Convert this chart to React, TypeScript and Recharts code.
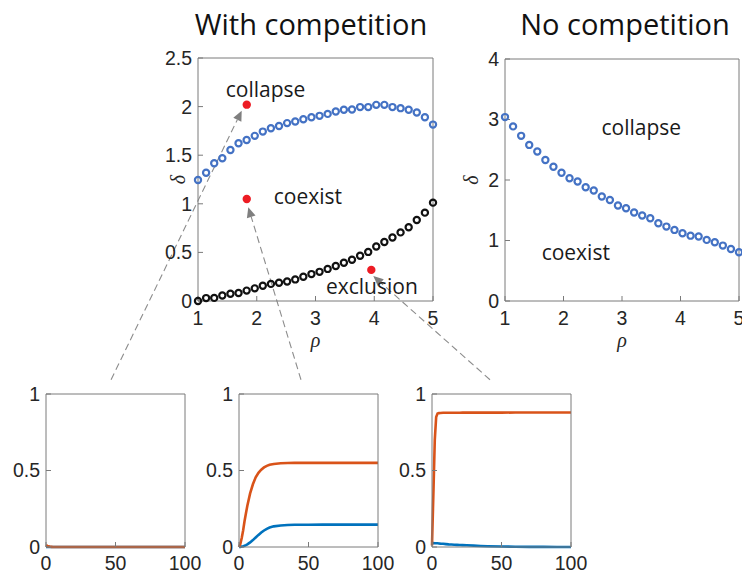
import React from 'react';
import {
  ScatterChart,
  Scatter,
  LineChart,
  Line,
  XAxis,
  YAxis,
  ReferenceLine,
  ReferenceDot,
} from 'recharts';

// rho values sampled along the x axis (shared by all three top series)
const rho = [
  1.0, 1.138, 1.276, 1.414, 1.552, 1.69, 1.828, 1.966, 2.103, 2.241, 2.379, 2.517, 2.655, 2.793, 2.931,
  3.069, 3.207, 3.345, 3.483, 3.621, 3.759, 3.897, 4.034, 4.172, 4.31, 4.448, 4.586, 4.724, 4.862, 5.0,
];

// with competition: upper (collapse) boundary
const collapseWith = [
  1.245, 1.32, 1.417, 1.469, 1.554, 1.623, 1.657, 1.699, 1.743, 1.778, 1.8, 1.83, 1.846, 1.87, 1.89,
  1.905, 1.925, 1.95, 1.967, 1.97, 1.995, 1.995, 2.018, 2.018, 1.995, 1.984, 1.967, 1.94, 1.89, 1.815,
];

// with competition: lower (exclusion) boundary
const exclusionWith = [
  0, 0.03, 0.032, 0.056, 0.075, 0.083, 0.107, 0.13, 0.157, 0.176, 0.187, 0.2, 0.222, 0.25, 0.277,
  0.3, 0.33, 0.36, 0.393, 0.424, 0.465, 0.505, 0.56, 0.607, 0.653, 0.706, 0.758, 0.833, 0.909, 1.012,
];

// no competition: collapse boundary
const collapseNo = [
  3.04, 2.886, 2.73, 2.58, 2.47, 2.33, 2.22, 2.12, 2.03, 1.975, 1.88, 1.826, 1.727, 1.67, 1.578,
  1.534, 1.462, 1.412, 1.368, 1.285, 1.23, 1.175, 1.12, 1.08, 1.065, 1.01, 0.97, 0.916, 0.86, 0.805,
];

// the three sampled parameter points (red dots)
const sampleRho = [1.83, 1.83, 3.95];
const sampleDelta = [2.02, 1.05, 0.32];

// time axis of the small simulations
const time = [0, 1, 2, 3, 4, 5, 6, 8, 10, 12, 14, 16, 18, 20, 22, 25, 30, 35, 40, 50, 60, 70, 80, 90, 100];

const collapseRed = [0.012, 0.007, 0.004, 0.002, 0.001, 0, 0, 0, 0, 0, 0, 0, 0, 0, 0, 0, 0, 0, 0, 0, 0, 0, 0, 0, 0];
const collapseBlue = [0, 0, 0, 0, 0, 0, 0, 0, 0, 0, 0, 0, 0, 0, 0, 0, 0, 0, 0, 0, 0, 0, 0, 0, 0];

const coexistRed = [
  0, 0.02, 0.06, 0.11, 0.17, 0.22, 0.27, 0.35, 0.41, 0.455, 0.485, 0.505, 0.52, 0.53, 0.537, 0.543,
  0.547, 0.549, 0.55, 0.55, 0.55, 0.55, 0.55, 0.55, 0.55,
];
const coexistBlue = [
  0, 0.001, 0.003, 0.005, 0.008, 0.012, 0.017, 0.03, 0.045, 0.062, 0.079, 0.095, 0.108, 0.119, 0.127,
  0.135, 0.141, 0.144, 0.145, 0.145, 0.146, 0.146, 0.146, 0.146, 0.146,
];

const exclusionRed = [
  0.01, 0.35, 0.7, 0.85, 0.872, 0.875, 0.876, 0.877, 0.877, 0.877, 0.877, 0.877, 0.877, 0.877, 0.878,
  0.878, 0.878, 0.878, 0.878, 0.878, 0.879, 0.879, 0.879, 0.879, 0.879,
];
const exclusionBlue = [
  0.025, 0.026, 0.025, 0.025, 0.024, 0.023, 0.022, 0.021, 0.019, 0.017, 0.016, 0.015, 0.014, 0.013,
  0.012, 0.011, 0.009, 0.007, 0.005, 0.003, 0.002, 0.001, 0.001, 0, 0,
];

const AXIS = '#7a7a7a';
const TICK = { fontSize: 19.5, fill: '#262626', fontFamily: '"Liberation Sans", Arial, sans-serif' };
const NOTE = { fontSize: 21, fill: '#1a1a1a', fontFamily: '"Open Sans", sans-serif' };
const SYM = { fontSize: 20, fill: '#262626', fontFamily: '"Liberation Serif", serif', fontStyle: 'italic' };

const pts = (ys: number[]) => rho.map((x, i) => ({ x, y: ys[i] }));
const sims = (red: number[], blue: number[]) => time.map((t, i) => ({ t, red: red[i], blue: blue[i] }));

const ring = (color: string) => (p: any) => (
  <circle cx={p.cx} cy={p.cy} r={3.1} fill="none" stroke={color} strokeWidth={2.2} />
);
const dot = (p: any) => <circle cx={p.cx} cy={p.cy} r={4.2} fill="#ed1c24" />;
const nothing = () => <g />;

// dashed arrow pointing from a small panel up to its parameter point
function Arrow(p: any) {
  const { x1, y1, x2, y2 } = p;
  const len = Math.hypot(x2 - x1, y2 - y1);
  const ux = (x2 - x1) / len;
  const uy = (y2 - y1) / len;
  const bx = x2 - ux * 10;
  const by = y2 - uy * 10;
  return (
    <g>
      <line x1={x1} y1={y1} x2={bx} y2={by} stroke="#8c8c8c" strokeWidth={1.1} strokeDasharray="7 4" />
      <polygon points={`${x2},${y2} ${bx - uy * 4.5},${by + ux * 4.5} ${bx + uy * 4.5},${by - ux * 4.5}`} fill="#7f7f7f" />
    </g>
  );
}

// MATLAB style box: labelled bottom/left axes, mirrored tick-only top/right axes
// (the mirrored axes need a size of at least 1px or recharts skips them)
function frameAxes(yDomain: number[], yTicks: number[], yWidth: number, symDx: number) {
  return [
    <XAxis key="xb" dataKey="x" type="number" domain={[1, 5]} ticks={[1, 2, 3, 4, 5]}
      stroke={AXIS} tick={TICK} tickSize={-5} tickMargin={15} height={30} interval={0}
      label={{ value: 'ρ', position: 'bottom', offset: 2, ...SYM }} />,
    <XAxis key="xt" xAxisId="top" dataKey="x" orientation="top" type="number" domain={[1, 5]} ticks={[1, 2, 3, 4, 5]}
      stroke={AXIS} tick={false} tickSize={-5} height={1} interval={0} />,
    <YAxis key="yl" dataKey="y" type="number" domain={yDomain} ticks={yTicks}
      stroke={AXIS} tick={TICK} tickSize={-5} tickMargin={11} width={yWidth} interval={0}
      label={{ value: 'δ', position: 'center', angle: -90, dx: symDx, ...SYM }} />,
    <YAxis key="yr" yAxisId="right" dataKey="y" orientation="right" type="number" domain={yDomain} ticks={yTicks}
      stroke={AXIS} tick={false} tickSize={-5} width={1} interval={0} />,
  ];
}

function TimePanel({ left, red, blue }: { left: number; red: number[]; blue: number[] }) {
  return (
    <div style={{ position: 'absolute', left: left - 45, top: 380 }}>
      <LineChart width={204} height={193} data={sims(red, blue)} margin={{ top: 13, right: 19, bottom: 0, left: 0 }}>
        <XAxis dataKey="t" type="number" domain={[0, 100]} ticks={[0, 50, 100]} stroke={AXIS} tick={TICK}
          tickSize={-5} tickMargin={14} height={26} interval={0} />
        <XAxis xAxisId="top" dataKey="t" orientation="top" type="number" domain={[0, 100]} ticks={[0, 50, 100]}
          stroke={AXIS} tick={false} tickSize={-5} height={1} interval={0} />
        <YAxis type="number" domain={[0, 1]} ticks={[0, 0.5, 1]} stroke={AXIS} tick={TICK} tickSize={-5}
          tickMargin={11} width={45} interval={0} />
        <YAxis yAxisId="right" orientation="right" type="number" domain={[0, 1]} ticks={[0, 0.5, 1]} stroke={AXIS}
          tick={false} tickSize={-5} width={1} interval={0} />
        <Line xAxisId="top" yAxisId="right" dataKey="red" stroke="none" dot={false} isAnimationActive={false} />
        <Line dataKey="blue" stroke="#0072BD" strokeWidth={2.6} dot={false} isAnimationActive={false} />
        <Line dataKey="red" stroke="#D95319" strokeWidth={2.6} dot={false} isAnimationActive={false} />
      </LineChart>
    </div>
  );
}

const title: React.CSSProperties = {
  position: 'absolute',
  top: 4,
  transform: 'translateX(-50%)',
  whiteSpace: 'nowrap',
  fontFamily: '"Open Sans", sans-serif',
  fontSize: 29,
  color: '#111',
};

export default function App() {
  return (
    <div style={{ position: 'fixed', left: 0, top: 0, width: 742, height: 573, background: '#fff', overflow: 'hidden' }}>
      <div style={{ ...title, left: 311 }}>With competition</div>
      <div style={{ ...title, left: 625 }}>No competition</div>

      <TimePanel left={46} red={collapseRed} blue={collapseBlue} />
      <TimePanel left={239} red={coexistRed} blue={coexistBlue} />
      <TimePanel left={432} red={exclusionRed} blue={exclusionBlue} />

      <div style={{ position: 'absolute', left: 460, top: 0 }}>
        <ScatterChart width={282} height={370} margin={{ top: 58, right: 2, bottom: 39, left: 0 }}>
          {frameAxes([0, 4], [0, 1, 2, 3, 4], 45, -12)}
          <Scatter data={pts(collapseNo)} xAxisId="top" yAxisId="right" shape={nothing} isAnimationActive={false} />
          <Scatter data={pts(collapseNo)} shape={ring('#4472C4')} isAnimationActive={false} />
          <ReferenceDot x={3.33} y={2.87} r={0} stroke="none" fill="none"
            label={{ value: 'collapse', position: 'center', ...NOTE }} />
          <ReferenceDot x={2.21} y={0.8} r={0} stroke="none" fill="none"
            label={{ value: 'coexist', position: 'center', ...NOTE }} />
        </ScatterChart>
      </div>

      <div style={{ position: 'absolute', left: 0, top: 0 }}>
        <ScatterChart width={500} height={390} margin={{ top: 57, right: 66, bottom: 59, left: 158 }}>
          {frameAxes([0, 2.5], [0, 0.5, 1, 1.5, 2, 2.5], 40, 0)}
          <Scatter data={pts(collapseWith)} xAxisId="top" yAxisId="right" shape={nothing} isAnimationActive={false} />
          <Scatter data={pts(collapseWith)} shape={ring('#4472C4')} isAnimationActive={false} />
          <Scatter data={pts(exclusionWith)} shape={ring('#111111')} isAnimationActive={false} />
          <Scatter data={sampleRho.map((x, i) => ({ x, y: sampleDelta[i] }))} shape={dot} isAnimationActive={false} />
          <ReferenceDot x={2.15} y={2.18} r={0} stroke="none" fill="none"
            label={{ value: 'collapse', position: 'center', ...NOTE }} />
          <ReferenceDot x={2.87} y={1.07} r={0} stroke="none" fill="none"
            label={{ value: 'coexist', position: 'center', ...NOTE }} />
          <ReferenceDot x={3.96} y={0.15} r={0} stroke="none" fill="none"
            label={{ value: 'exclusion', position: 'center', ...NOTE }} />
          <ReferenceLine segment={[{ x: -0.48, y: -0.81 }, { x: 1.744, y: 1.958 }]} ifOverflow="visible" shape={Arrow} />
          <ReferenceLine segment={[{ x: 2.753, y: -0.81 }, { x: 1.856, y: 0.964 }]} ifOverflow="visible" shape={Arrow} />
          <ReferenceLine segment={[{ x: 5.97, y: -0.81 }, { x: 3.984, y: 0.257 }]} ifOverflow="visible" shape={Arrow} />
        </ScatterChart>
      </div>
    </div>
  );
}
